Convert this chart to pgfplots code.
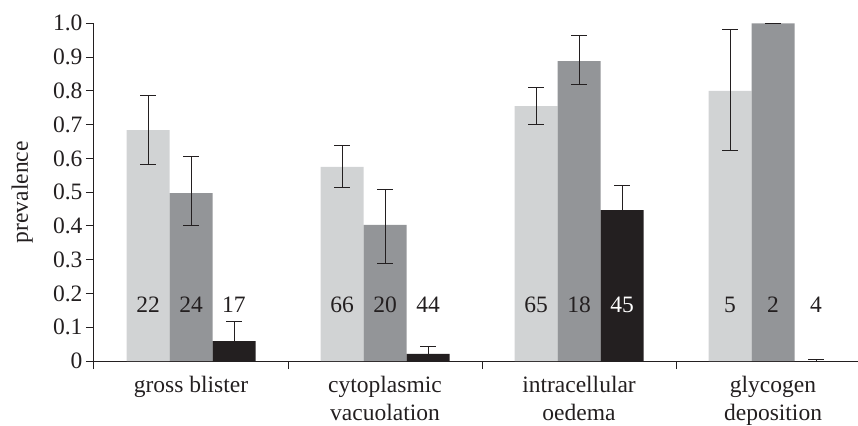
\documentclass[border=0pt]{standalone}
\usepackage{fontspec}
\setmainfont{Liberation Serif}
\usepackage{pgfplots}
\pgfplotsset{compat=1.18}
\usepackage{pgfplotstable}
\definecolor{lightbar}{HTML}{D1D3D4}
\definecolor{midbar}{HTML}{939598}
\definecolor{darkbar}{HTML}{231F20}

\pgfplotstableread{
x y ep em
0 0.684 0.102 0.103
1 0.575 0.064 0.060
2 0.755 0.056 0.054
3 0.800 0.181 0.177
}\lighttab
\pgfplotstableread{
x y ep em
0 0.497 0.109 0.097
1 0.403 0.106 0.113
2 0.888 0.076 0.069
3 1.000 0.000 0.000
}\midtab
\pgfplotstableread{
x y ep em
0 0.059 0.057 0.000
1 0.021 0.023 0.000
2 0.447 0.073 0.000
3 0.000 0.004 0.000
}\darktab

\begin{document}
\begin{tikzpicture}[font=\fontsize{23.5}{28}\selectfont]
\begin{axis}[
  at={(0,0)}, anchor=south west,
  scale only axis, width=764pt, height=337.7pt,
  xmin=-0.5, xmax=3.438, ymin=0, ymax=1,
  ybar=0pt, bar width=43pt,
  axis lines*=left,
  axis line style={-, line width=1pt, draw=darkbar},
  tick align=outside,
  major tick length=8pt,
  tick style={line width=1pt, draw=darkbar},
  /pgf/number format/assume math mode=true,
  tick label style={font=\fontsize{23.5}{28}\selectfont, text=darkbar},
  ytick={0,0.1,0.2,0.3,0.4,0.5,0.6,0.7,0.8,0.9,1.0},
  yticklabels={0,0.1,0.2,0.3,0.4,0.5,0.6,0.7,0.8,0.9,1.0},
  xtick={-0.5,0.5,1.5,2.5},
  xticklabels={},
  extra x ticks={0,1,2,3},
  extra x tick labels={gross blister,{cytoplasmic\\vacuolation},{intracellular\\oedema},{glycogen\\deposition}},
  extra x tick style={major tick length=0pt, xticklabel style={align=center, anchor=north, yshift=-12pt}},
  ylabel={prevalence},
  every axis y label/.style={at={([xshift=-61pt]rel axis cs:0,0.5)}, anchor=south, rotate=90, inner sep=0pt, font=\fontsize{23.5}{28}\selectfont, text=darkbar},
  clip=false,
  error bars/error bar style={line width=1pt, draw=darkbar},
  error bars/error mark options={rotate=90, draw=darkbar, line width=1pt, mark size=7.8pt},
]
\addplot[fill=lightbar, draw=none, bar shift=-43pt,
  error bars/.cd, y dir=both, y explicit]
  table[x=x, y=y, y error plus=ep, y error minus=em] {\lighttab};
\addplot[fill=midbar, draw=none, bar shift=0pt,
  error bars/.cd, y dir=both, y explicit]
  table[x=x, y=y, y error plus=ep, y error minus=em] {\midtab};
\addplot[fill=darkbar, draw=none, bar shift=43pt,
  error bars/.cd, y dir=plus, y explicit]
  table[x=x, y=y, y error plus=ep, y error minus=em] {\darktab};

\node[text=darkbar] at (axis cs:-0.2216,0.166) {22};
\node[text=darkbar] at (axis cs:0,0.166) {24};
\node[text=darkbar] at (axis cs:0.2216,0.166) {17};
\node[text=darkbar] at (axis cs:0.7784,0.166) {66};
\node[text=darkbar] at (axis cs:1,0.166) {20};
\node[text=darkbar] at (axis cs:1.2216,0.166) {44};
\node[text=darkbar] at (axis cs:1.7784,0.166) {65};
\node[text=darkbar] at (axis cs:2,0.166) {18};
\node[text=white] at (axis cs:2.2216,0.166) {45};
\node[text=darkbar] at (axis cs:2.7784,0.166) {5};
\node[text=darkbar] at (axis cs:3,0.166) {2};
\node[text=darkbar] at (axis cs:3.2216,0.166) {4};
\end{axis}
\pgfresetboundingbox
\path[use as bounding box] (-94pt,-64pt) rectangle (764pt,361pt);
\end{tikzpicture}
\end{document}
